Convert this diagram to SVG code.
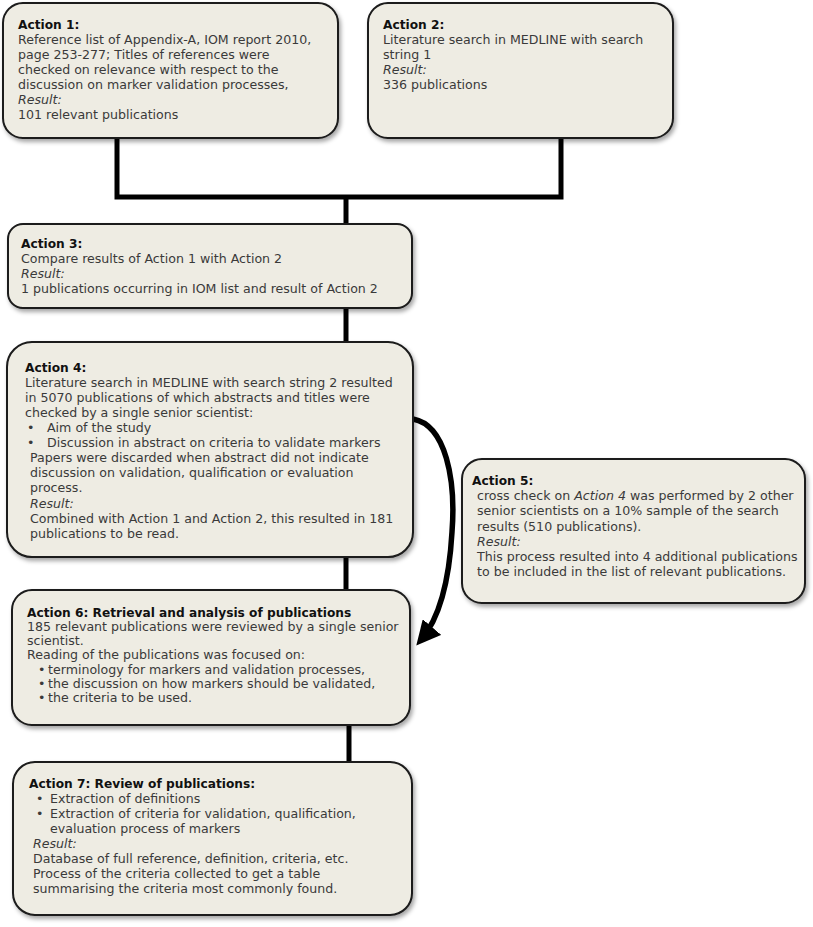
<svg xmlns="http://www.w3.org/2000/svg" width="813" height="927" viewBox="0 0 813 927">
<style>
.box{fill:#eeece3;stroke:#1a1a1a;stroke-width:2;filter:url(#sh)}
text{font-family:"DejaVu Sans","Verdana",sans-serif;font-size:12.6px;fill:#3a3a3a}
.h{font-weight:bold;fill:#111;font-size:12.2px}
.i{font-style:italic}
.con{fill:none;stroke:#000;stroke-width:5}
</style>
<defs>
<filter id="sh" x="-5%" y="-5%" width="115%" height="120%">
<feDropShadow dx="2" dy="3" stdDeviation="2" flood-color="#000" flood-opacity="0.35"/>
</filter>
<marker id="ah" viewBox="0 0 10 10" refX="7" refY="5" markerWidth="4.4" markerHeight="4.4" orient="auto" markerUnits="strokeWidth">
<path d="M0,0 L10,5 L0,10 z" fill="#000"/>
</marker>
</defs>
<g id="connectors">
<path class="con" d="M117,138 V197 H561 V138"/>
<path class="con" d="M346,197 V225"/>
<path class="con" d="M346,308 V343"/>
<path class="con" d="M346,557 V591"/>
<path class="con" d="M349,725 V763"/>
<path class="con" style="stroke-width:5.5" d="M413,419 C446,425 456,480 452,532 C449,585 438,620 421,640" marker-end="url(#ah)"/>
</g>
<g id="action1">
<rect class="box" x="3" y="3" width="335" height="135" rx="20"/>
<text x="18" y="29" class="h">Action 1:</text>
<text x="18" y="44">Reference list of Appendix-A, IOM report 2010,</text>
<text x="18" y="59">page 253-277; Titles of references were</text>
<text x="18" y="74">checked on relevance with respect to the</text>
<text x="18" y="89">discussion on marker validation processes,</text>
<text x="18" y="104" class="i">Result:</text>
<text x="18" y="119">101 relevant publications</text>
</g>
<g id="action2">
<rect class="box" x="368" y="3" width="305" height="135" rx="20"/>
<text x="383" y="29" class="h">Action 2:</text>
<text x="383" y="44">Literature search in MEDLINE with search</text>
<text x="383" y="59">string 1</text>
<text x="383" y="74" class="i">Result:</text>
<text x="383" y="89">336 publications</text>
</g>
<g id="action3">
<rect class="box" x="8" y="224" width="404" height="84" rx="15"/>
<text x="21" y="248" class="h">Action 3:</text>
<text x="21" y="263">Compare results of Action 1 with Action 2</text>
<text x="21" y="278" class="i">Result:</text>
<text x="21" y="293">1 publications occurring in IOM list and result of Action 2</text>
</g>
<g id="action4">
<rect class="box" x="7" y="342" width="406" height="215" rx="25"/>
<text x="25" y="372" class="h">Action 4:</text>
<text x="25" y="387">Literature search in MEDLINE with search string 2 resulted</text>
<text x="25" y="402">in 5070 publications of which abstracts and titles were</text>
<text x="25" y="417">checked by a single senior scientist:</text>
<text x="27" y="432">•</text><text x="47" y="432">Aim of the study</text>
<text x="27" y="447">•</text><text x="47" y="447">Discussion in abstract on criteria to validate markers</text>
<text x="30" y="462">Papers were discarded when abstract did not indicate</text>
<text x="30" y="477">discussion on validation, qualification or evaluation</text>
<text x="30" y="492">process.</text>
<text x="30" y="508" class="i">Result:</text>
<text x="30" y="523">Combined with Action 1 and Action 2, this resulted in 181</text>
<text x="30" y="538">publications to be read.</text>
</g>
<g id="action5">
<rect class="box" x="462" y="459" width="343" height="144" rx="20"/>
<text x="472" y="485" class="h">Action 5:</text>
<text x="477" y="500">cross check on <tspan class="i">Action 4</tspan> was performed by 2 other</text>
<text x="477" y="515">senior scientists on a 10% sample of the search</text>
<text x="477" y="531">results (510 publications).</text>
<text x="477" y="546" class="i">Result:</text>
<text x="477" y="561">This process resulted into 4 additional publications</text>
<text x="477" y="576">to be included in the list of relevant publications.</text>
</g>
<g id="action6">
<rect class="box" x="12" y="590" width="398" height="135" rx="20"/>
<text x="27" y="617" class="h">Action 6: Retrieval and analysis of publications</text>
<text x="27" y="631">185 relevant publications were reviewed by a single senior</text>
<text x="27" y="645">scientist.</text>
<text x="27" y="659">Reading of the publications was focused on:</text>
<text x="38" y="674">•</text><text x="48" y="674">terminology for markers and validation processes,</text>
<text x="38" y="688">•</text><text x="48" y="688">the discussion on how markers should be validated,</text>
<text x="38" y="702">•</text><text x="48" y="702">the criteria to be used.</text>
</g>
<g id="action7">
<rect class="box" x="13" y="762" width="399" height="153" rx="22"/>
<text x="29" y="788" class="h">Action 7: Review of publications:</text>
<text x="36" y="803">•</text><text x="50" y="803">Extraction of definitions</text>
<text x="36" y="818">•</text><text x="50" y="818">Extraction of criteria for validation, qualification,</text>
<text x="50" y="833">evaluation process of markers</text>
<text x="33" y="848" class="i">Result:</text>
<text x="33" y="863">Database of full reference, definition, criteria, etc.</text>
<text x="33" y="878">Process of the criteria collected to get a table</text>
<text x="33" y="893">summarising the criteria most commonly found.</text>
</g>
</svg>
